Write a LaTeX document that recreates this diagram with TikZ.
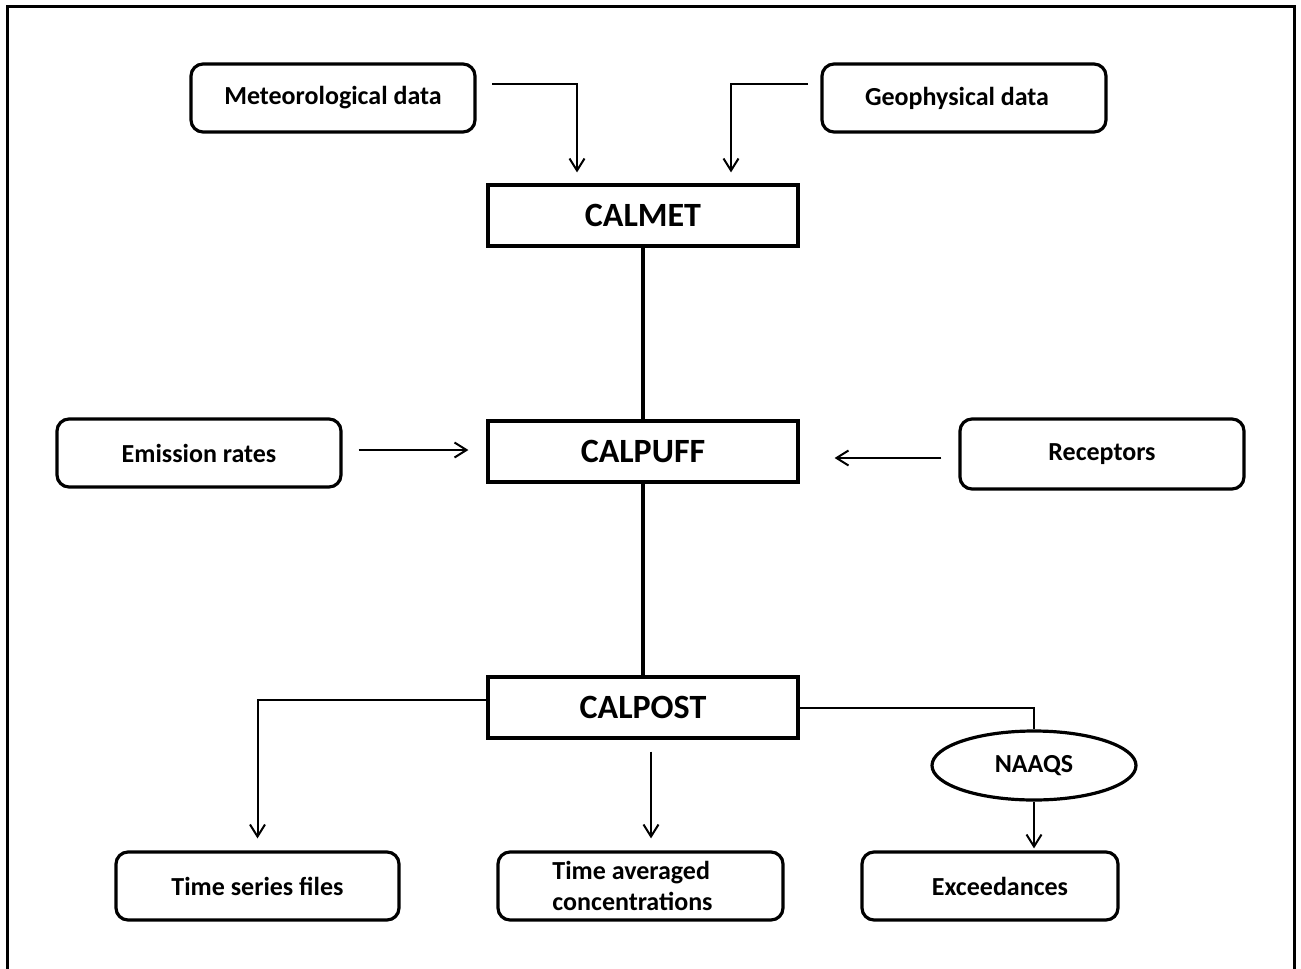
\documentclass[tikz,border=0pt]{standalone}
\usepackage{fontspec}
\setmainfont{Carlito}
\usetikzlibrary{shapes.geometric,arrows.meta,positioning,calc}

\begin{document}
\begin{tikzpicture}[
		x=1pt,y=-1pt,
		inbox/.style={draw,line width=3.2pt,rounded corners=12pt,minimum width=284pt,minimum height=68pt,inner sep=0pt,font=\fontsize{26}{31}\selectfont\bfseries},
		calbox/.style={draw,line width=3.2pt,minimum width=310pt,minimum height=61pt,inner sep=0pt,font=\fontsize{34}{40}\selectfont\bfseries},
		stdnode/.style={ellipse,draw,line width=3.2pt,minimum width=204pt,minimum height=69pt,inner sep=0pt,font=\fontsize{26}{31}\selectfont\bfseries},
		link/.style={line width=2pt,-{Straight Barb[length=12pt,width=15pt,line width=2pt]}},
		plain/.style={line width=2pt},
		trunk/.style={line width=3.4pt}
	]
	\useasboundingbox (0,0) rectangle (1301,969);
	\draw[line width=3pt] (7,990) -- (7,6) -- (1294,6) -- (1294,990);

	\node[inbox] (met) at (333,98) {Meteorological data};
	\node[inbox] (geo) at (964,98) {\hspace*{-14pt}Geophysical data};
	\node[calbox] (calmet) at (643,215.5) {CALMET};
	\node[calbox] (calpuff) at (643,451.5) {CALPUFF};
	\node[calbox] (calpost) at (643,707.5) {CALPOST};
	\node[inbox] (emis) at (199,453) {Emission rates};
	\node[inbox,minimum height=70pt] (rec) at (1102,454) {Receptors};
	\node[inbox,minimum width=283pt] (tsf) at (257.5,886) {Time series files};
	\node[inbox,minimum width=285pt,align=left] (tac) at (640.5,886) {\hspace*{-16pt}Time averaged\\\hspace*{-16pt}concentrations};
	\node[inbox,minimum width=256pt] (exc) at (990,886) {\hspace*{20pt}Exceedances};
	\node[stdnode] (naaqs) at (1034,765.5) {NAAQS};

	\coordinate (metout) at (492,84);
	\coordinate (geoout) at (808,84);

	\draw[link,shorten >=11pt] (metout) -| ([xshift=-66pt]calmet.north);
	\draw[link,shorten >=11pt] (geoout) -| ([xshift=88pt]calmet.north);
	\draw[trunk] (calmet) -- (calpuff);
	\draw[trunk] (calpuff) -- (calpost);
	\draw[link,shorten <=16pt,shorten >=18pt] ([yshift=3pt]emis.east) -- ([yshift=3pt]emis.east -| calpuff.west);
	\draw[link,shorten <=17pt,shorten >=35pt] ([yshift=-4pt]rec.west) -- ([yshift=-4pt]rec.west -| calpuff.east);
	\draw[link,shorten >=12pt] ([yshift=7.5pt]calpost.west) -| (tsf.north);
	\draw[link,shorten <=12pt,shorten >=12pt] ([xshift=8pt]calpost.south) -- ([xshift=8pt]calpost.south |- tac.north);
	\draw[plain] (calpost.east) -| (naaqs.north);
	\draw[link,shorten >=2pt] (naaqs.south) -- (naaqs.south |- exc.north);
\end{tikzpicture}
\end{document}
